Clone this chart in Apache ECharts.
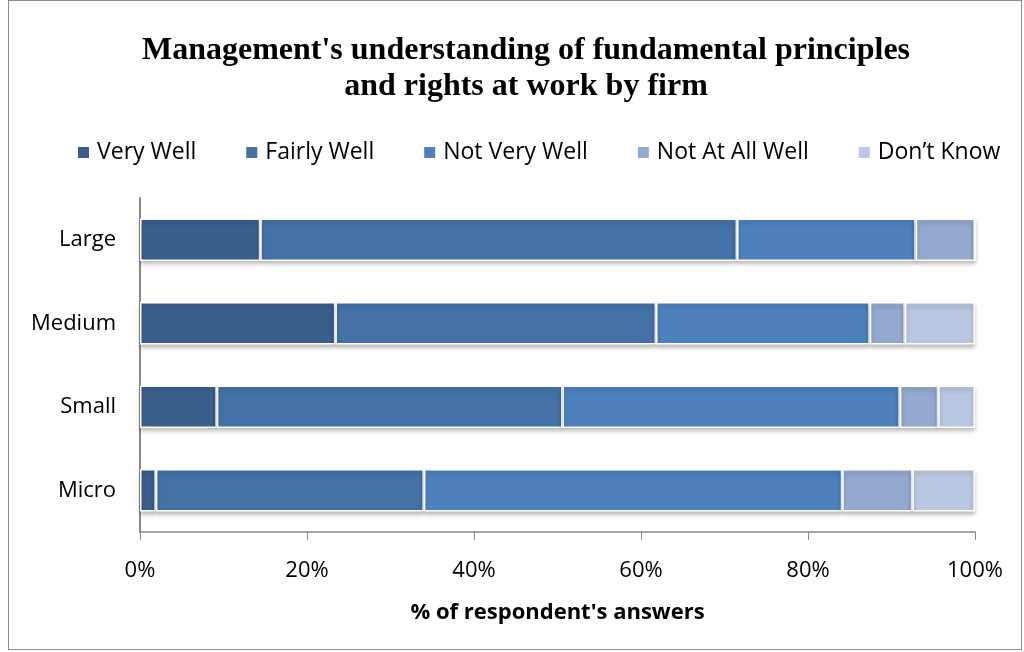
<!DOCTYPE html>
<html>
<head>
<meta charset="utf-8">
<script src="https://cdn.jsdelivr.net/npm/echarts@6/dist/echarts.min.js"></script>
<style>
  html, body { margin: 0; padding: 0; background: #fff; }
  #chart { position: absolute; left: 8px; top: 0; width: 1014px; height: 650px;
           border: 1px solid #8c8c8c; box-sizing: border-box; }
</style>
</head>
<body>
<div id="chart"></div>
<script>
// data (% of respondents)
var firms = ['Micro', 'Small', 'Medium', 'Large'];
var seriesNames = ['Very Well', 'Fairly Well', 'Not Very Well', 'Not At All Well', 'Don\u2019t Know'];
var veryWell    = [1.9, 9.2, 23.4, 14.4];
var fairlyWell  = [32.1, 41.4, 38.4, 57.1];
var notVeryWell = [50.1, 40.4, 25.6, 21.4];
var notAtAll    = [8.4, 4.6, 4.2, 7.1];
var dontKnow    = [7.5, 4.4, 8.4, 0];
var xTicks = [0, 20, 40, 60, 80, 100];

var colors = ['#3a5e8c', '#4472a6', '#4d80bd', '#94a9cf', '#b9c7e0'];
var values = [veryWell, fairlyWell, notVeryWell, notAtAll, dontKnow];

var chart = echarts.init(document.getElementById('chart'));

var series = seriesNames.map(function (name, i) {
  return {
    name: name,
    type: 'bar',
    stack: 'total',
    barWidth: '51%',
    data: values[i],
    itemStyle: {
      color: colors[i],
      borderColor: '#ffffff',
      borderWidth: 1.5,
      shadowColor: 'rgba(0,0,0,0.25)',
      shadowBlur: 4,
      shadowOffsetY: 3
    }
  };
});

chart.setOption({
  animation: false,
  color: colors,
  title: {
    text: "Management's understanding of fundamental principles\nand rights at work by firm",
    left: 512,
    textAlign: 'center',
    top: 27,
    textStyle: {
      fontFamily: 'Liberation Serif',
      fontWeight: 'bold',
      fontSize: 32,
      lineHeight: 36,
      color: '#000'
    }
  },
  legend: {
    top: 135,
    left: 62,
    itemWidth: 13,
    itemHeight: 13,
    itemGap: 48,
    icon: 'rect',
    textStyle: { fontFamily: 'Open Sans', fontSize: 23, color: '#000', padding: [0, 0, 0, 2] },
    data: seriesNames
  },
  grid: { left: 131, right: 46, top: 197, bottom: 117 },
  xAxis: {
    type: 'value',
    min: 0,
    max: 100,
    interval: 20,
    name: "% of respondent's answers",
    nameLocation: 'middle',
    nameGap: 70,
    nameTextStyle: { fontFamily: 'Open Sans', fontWeight: 'bold', fontSize: 22, color: '#000' },
    axisLine: { show: true, lineStyle: { color: '#888', width: 1.5 } },
    axisTick: { show: true, length: 8, lineStyle: { color: '#888' } },
    splitLine: { show: false },
    axisLabel: {
      margin: 28,
      fontFamily: 'Open Sans',
      fontSize: 22,
      color: '#000',
      formatter: function (v) { return xTicks.indexOf(v) >= 0 ? v + '%' : ''; }
    }
  },
  yAxis: {
    type: 'category',
    data: firms,
    axisLine: { show: true, lineStyle: { color: '#888', width: 2 } },
    axisTick: { show: false },
    axisLabel: { margin: 24, fontFamily: 'Open Sans', fontSize: 22, color: '#000' }
  },
  series: series
});
</script>
</body>
</html>
